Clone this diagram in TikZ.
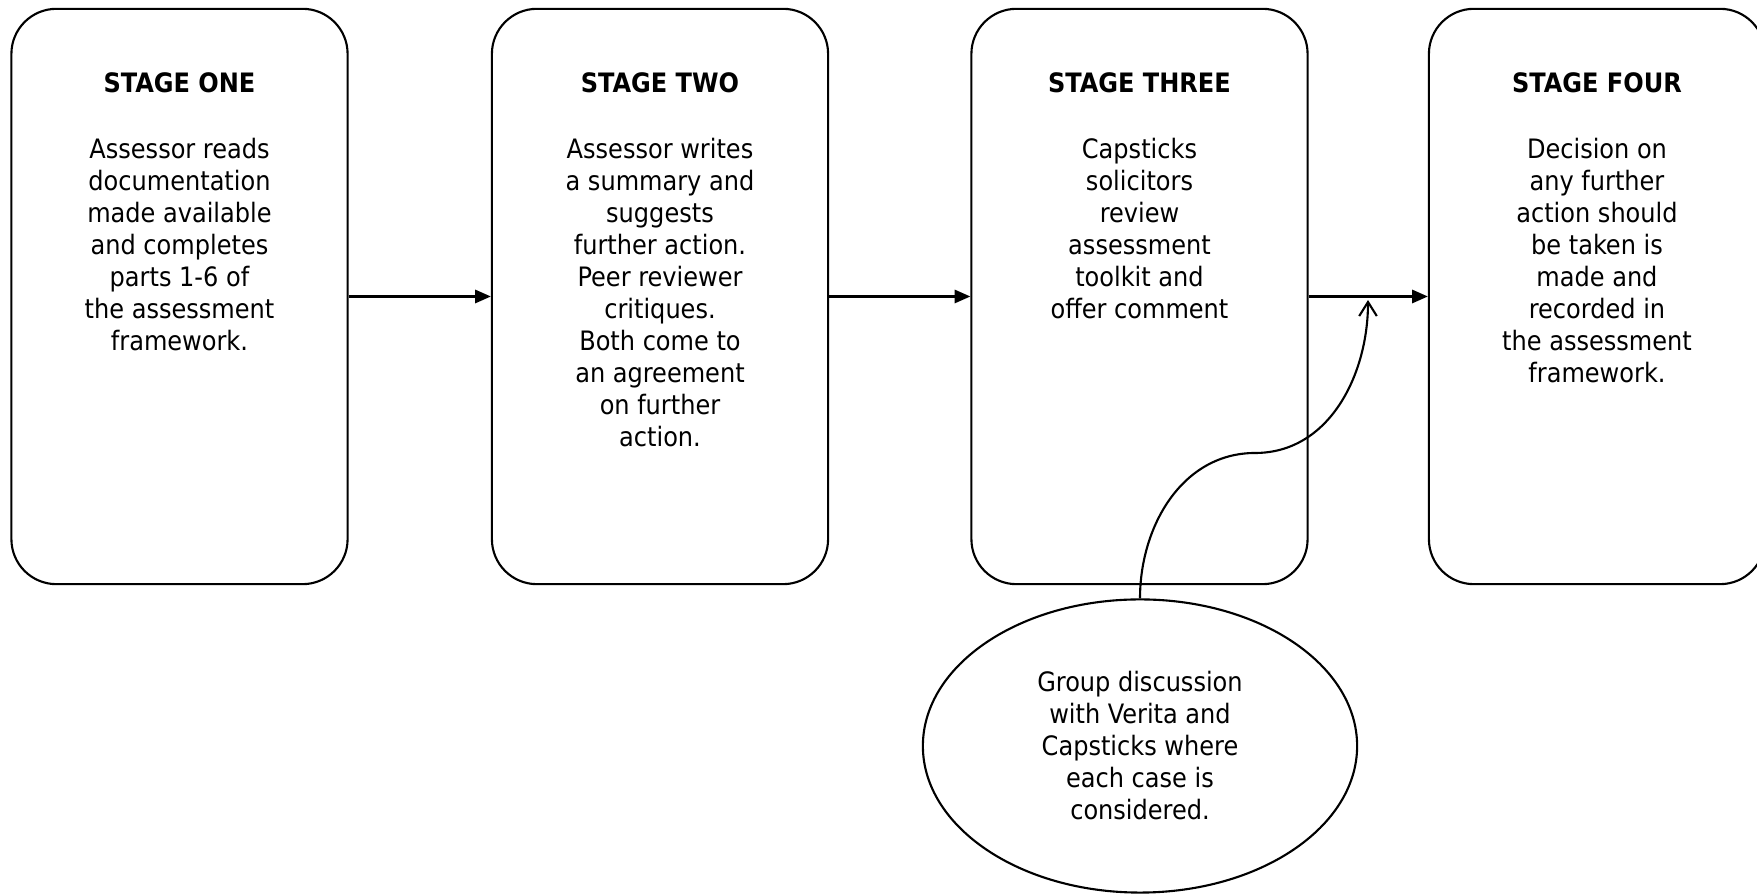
\documentclass[tikz,border=0pt]{standalone}
\usepackage{fontspec}
\setmainfont{DejaVu Sans Condensed}
\usetikzlibrary{arrows.meta,positioning,shapes.geometric}

\tikzset{
  stagebox/.style={draw, line width=0.6pt, rounded corners=0.45cm,
    minimum width=3.36cm, minimum height=5.75cm, inner sep=0pt},
  stagetext/.style={align=center, inner sep=0pt,
    font=\fontsize{7.6}{9.1}\selectfont},
  flow/.style={-{Triangle[length=4.5pt,width=3.8pt]}, line width=0.6pt},
}

\begin{document}
\begin{tikzpicture}[x=0.01cm,y=-0.01cm]
    \useasboundingbox (0,0) rectangle (1757,895);

    % Stage boxes
    \node[stagebox] (s1) at (179.5,296.5) {};
    \node[stagebox] (s2) at (660,296.5) {};
    \node[stagebox] (s3) at (1139.5,296.5) {};
    \node[stagebox] (s4) at (1597,296.5) {};

    % Stage texts
    \node[stagetext, below=0.64cm of s1.north] (t1) {\textbf{STAGE ONE}\\[9.8pt]
        Assessor reads\\documentation\\made available\\and completes\\parts 1-6 of\\the assessment\\framework.};
    \node[stagetext, below=0.64cm of s2.north] (t2) {\textbf{STAGE TWO}\\[9.8pt]
        Assessor writes\\a summary and\\suggests\\further action.\\Peer reviewer\\critiques.\\Both come to\\an agreement\\on further\\action.};
    \node[stagetext, below=0.64cm of s3.north] (t3) {\textbf{STAGE THREE}\\[9.8pt]
        Capsticks\\solicitors\\review\\assessment\\toolkit and\\offer comment};
    \node[stagetext, below=0.64cm of s4.north] (t4) {\textbf{STAGE FOUR}\\[9.8pt]
        Decision on\\any further\\action should\\be taken is\\made and\\recorded in\\the assessment\\framework.};

    % Flow between stages
    \draw[flow] (s1.east) -- (s2.west);
    \draw[flow] (s2.east) -- (s3.west);
    \draw[flow] (s3.east) -- (s4.west);

    % Group discussion feeding the last step
    \node[stagetext, draw, ellipse, line width=0.6pt, minimum width=4.34cm,
        minimum height=2.93cm] (disc) at (1140,746)
        {Group discussion\\with Verita and\\Capsticks where\\each case is\\considered.};
    \coordinate (bend) at (1255,453);
    \coordinate (tip) at (1368,300);
    \draw[line width=0.6pt, -{Straight Barb[length=4pt,width=5pt]}]
        (disc.north) to[out=90,in=180] (bend) to[out=0,in=-90] (tip);
\end{tikzpicture}
\end{document}
